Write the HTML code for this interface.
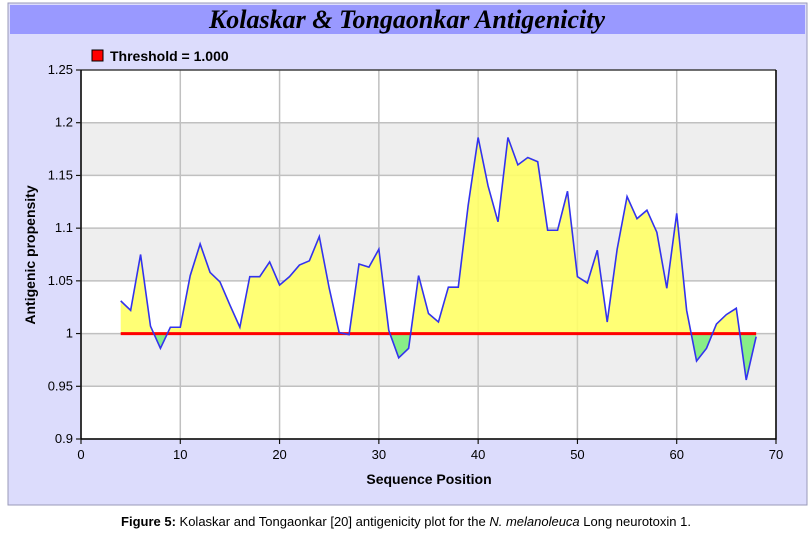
<!DOCTYPE html>
<html><head><meta charset="utf-8"><style>
body{margin:0;background:#fff;width:812px;height:534px;overflow:hidden;font-family:"Liberation Sans",Arial,sans-serif}
</style></head><body>
<svg width="812" height="534" xmlns="http://www.w3.org/2000/svg">
<rect x="8" y="3" width="799" height="502" fill="#dcdcfc" stroke="#9a9ab8" stroke-width="1"/>
<rect x="10" y="5" width="795" height="29" fill="#9999ff"/>
<text x="407" y="28" text-anchor="middle" font-family="Liberation Serif,serif" font-style="italic" font-weight="bold" font-size="26" fill="#000">Kolaskar &amp; Tongaonkar Antigenicity</text>
<rect x="92" y="50" width="11" height="11" fill="#f00" stroke="#000" stroke-width="1"/>
<text x="110" y="61" font-size="14" font-weight="bold" fill="#000">Threshold = 1.000</text>
<g id="plot"></g>
<text x="429" y="484" text-anchor="middle" font-size="14" font-weight="bold">Sequence Position</text>
<text transform="translate(35,255) rotate(-90)" text-anchor="middle" font-size="14" font-weight="bold">Antigenic propensity</text>
<text x="406" y="526" text-anchor="middle" font-size="13" fill="#000"><tspan font-weight="bold">Figure 5:</tspan> Kolaskar and Tongaonkar [20] antigenicity plot for the <tspan font-style="italic">N. melanoleuca</tspan> Long neurotoxin 1.</text>
</svg>
<script>
const positions=[4,5,6,7,8,9,10,11,12,13,14,15,16,17,18,19,20,21,22,23,24,25,26,27,28,29,30,31,32,33,34,35,36,37,38,39,40,41,42,43,44,45,46,47,48,49,50,51,52,53,54,55,56,57,58,59,60,61,62,63,64,65,66,67,68];
const scores=[1.031,1.022,1.075,1.007,0.986,1.006,1.006,1.055,1.085,1.058,1.049,1.027,1.006,1.054,1.054,1.068,1.046,1.054,1.065,1.069,1.092,1.043,1.001,0.999,1.066,1.063,1.080,1.003,0.977,0.986,1.055,1.019,1.011,1.044,1.044,1.122,1.186,1.140,1.106,1.186,1.160,1.167,1.163,1.098,1.098,1.135,1.054,1.048,1.079,1.011,1.080,1.130,1.109,1.117,1.096,1.043,1.114,1.022,0.974,0.986,1.009,1.018,1.024,0.956,0.997];
const threshold=1.0;
const xTicks=[0,10,20,30,40,50,60,70];
const yTicks=[0.9,0.95,1,1.05,1.1,1.15,1.2,1.25];
const yTickLabels=["0.9","0.95","1","1.05","1.1","1.15","1.2","1.25"];
const X0=81,X1=776,Y0=439,Y1=70;
const sx=v=>X0+(v-0)/(70-0)*(X1-X0);
const sy=v=>Y0-(v-0.9)/(1.25-0.9)*(Y0-Y1);
const NS="http://www.w3.org/2000/svg";
const plotG=document.getElementById('plot');
function mk(t,a){const e=document.createElementNS(NS,t);for(const k in a)e.setAttribute(k,a[k]);plotG.appendChild(e);return e;}
const bg=mk('rect',{x:X0,y:Y1,width:X1-X0,height:Y0-Y1,fill:'#fff'});


for(let i=0;i<yTicks.length-1;i++){ if(i%2===1){const b=mk('rect',{x:X0,y:sy(yTicks[i+1]),width:X1-X0,height:sy(yTicks[i])-sy(yTicks[i+1]),fill:'#eeeeee'});

}}
yTicks.forEach((t,i)=>{const l=mk('line',{x1:X0-5,x2:X1,y1:sy(t),y2:sy(t),stroke:'#c0c0c0','stroke-width':1.5});


const tk=mk('line',{x1:X0-5,x2:X0,y1:sy(t),y2:sy(t),stroke:'#000'});


const tx=mk('text',{x:X0-8,y:sy(t)+4,'text-anchor':'end','font-size':13,fill:'#000'});tx.textContent=yTickLabels[i];

});
xTicks.forEach(t=>{const l=mk('line',{x1:sx(t),x2:sx(t),y1:Y1,y2:Y0+5,stroke:'#c0c0c0','stroke-width':1.5});


const tk=mk('line',{x1:sx(t),x2:sx(t),y1:Y0,y2:Y0+5,stroke:'#000'});


const tx=mk('text',{x:sx(t),y:Y0+20,'text-anchor':'middle','font-size':13,fill:'#000'});tx.textContent=t;

});
const defsEl=mk('defs',{});
const ty=sy(threshold);
defsEl.innerHTML=`<clipPath id="ca"><rect x="${X0}" y="${Y1}" width="${X1-X0}" height="${ty-Y1}"/></clipPath><clipPath id="cb"><rect x="${X0}" y="${ty}" width="${X1-X0}" height="${Y0-ty}"/></clipPath>`;
const pts=positions.map((p,i)=>sx(p)+','+sy(scores[i])).join(' ');
const area=sx(positions[0])+','+ty+' '+pts+' '+sx(positions[positions.length-1])+','+ty;
const fa=mk('polygon',{points:area,fill:'#ffff66','fill-opacity':0.9,'clip-path':'url(#ca)'});


const fb=mk('polygon',{points:area,fill:'#88ee88','clip-path':'url(#cb)'});


const th=mk('line',{x1:sx(positions[0]),x2:sx(positions[positions.length-1]),y1:ty,y2:ty,stroke:'#ff0000','stroke-width':3});


const ln=mk('polyline',{points:pts,fill:'none',stroke:'#3333ee','stroke-width':1.6});


const ax=mk('path',{d:`M${X0},${Y1} V${Y0} H${X1} V${Y1}`,fill:'none',stroke:'#000','stroke-width':1.5});


const topBorder=mk('line',{x1:X0,x2:X1,y1:Y1,y2:Y1,stroke:'#000','stroke-width':1});


</script>
</body></html>
